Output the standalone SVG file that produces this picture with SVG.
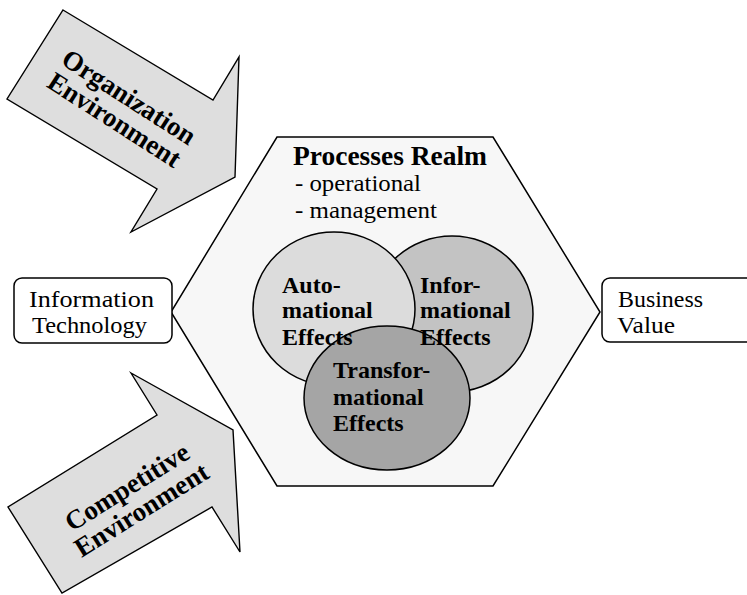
<svg xmlns="http://www.w3.org/2000/svg" width="747" height="595" viewBox="0 0 747 595">
<style>
.shape{stroke:#000;stroke-width:1.5;stroke-linejoin:miter}
.arrow{fill:#dedede;stroke:#000;stroke-width:1.4}
.reg{font-family:"Liberation Serif","Times New Roman",serif;font-size:23px;fill:#000}
.bold{font-family:"Liberation Serif","Times New Roman",serif;font-size:24px;font-weight:bold;fill:#000}
.big{font-family:"Liberation Serif","Times New Roman",serif;font-size:27px;font-weight:bold;fill:#000}
</style>
<rect width="747" height="595" fill="#fff"/>
<g id="org-env">
<polygon class="arrow" points="63,10 213,100 239,57 235,177 131,232 157,189 7,99"/>
<g transform="translate(122,108) rotate(32.7)">
<text class="big" x="0" y="-4" text-anchor="middle">Organization</text>
<text class="big" x="0" y="23" text-anchor="middle">Environment</text>
</g>
</g>
<g id="comp-env">
<polygon class="arrow" points="131,373 233,430 240,552 212,507 62,593 8,507 157,415"/>
<g transform="translate(134,498) rotate(-32)">
<text class="big" x="0" y="-4" text-anchor="middle">Competitive</text>
<text class="big" x="0" y="23" text-anchor="middle">Environment</text>
</g>
</g>
<g id="processes-realm">
<polygon class="shape" fill="#f7f7f7" points="277,137 493,137 600,312 493,486 277,486 171,312"/>
<text class="big" x="293" y="165" textLength="194" lengthAdjust="spacingAndGlyphs">Processes Realm</text>
<text class="reg" x="295" y="191" textLength="126" lengthAdjust="spacingAndGlyphs">- operational</text>
<text class="reg" x="295" y="218" textLength="142" lengthAdjust="spacingAndGlyphs">- management</text>
</g>
<g id="informational">
<ellipse class="shape" fill="#c3c3c3" cx="452" cy="314" rx="81" ry="78"/>
</g>
<g id="automational">
<ellipse class="shape" fill="#dcdcdc" cx="334" cy="309" rx="81" ry="77"/>
</g>
<g id="transformational">
<ellipse class="shape" fill="#a5a5a5" cx="387" cy="398" rx="83" ry="72"/>
</g>
<g id="effect-labels">
<text class="bold" x="282" y="293">Auto-</text>
<text class="bold" x="282" y="318">mational</text>
<text class="bold" x="282" y="345">Effects</text>
<text class="bold" x="420" y="293">Infor-</text>
<text class="bold" x="420" y="318">mational</text>
<text class="bold" x="420" y="345">Effects</text>
<text class="bold" x="333" y="378">Transfor-</text>
<text class="bold" x="333" y="405">mational</text>
<text class="bold" x="333" y="431">Effects</text>
</g>
<g id="information-technology">
<rect class="shape" fill="#fff" x="14" y="278" width="158" height="65" rx="8"/>
<text class="reg" x="29" y="307" textLength="125" lengthAdjust="spacingAndGlyphs">Information</text>
<text class="reg" x="32" y="333" textLength="115" lengthAdjust="spacingAndGlyphs">Technology</text>
</g>
<g id="business-value">
<rect class="shape" fill="#fff" x="602" y="278" width="170" height="64" rx="8"/>
<text class="reg" x="618" y="307" textLength="85" lengthAdjust="spacingAndGlyphs">Business</text>
<text class="reg" x="617" y="333" textLength="58" lengthAdjust="spacingAndGlyphs">Value</text>
</g>
<g id="connectors"/>
</svg>
